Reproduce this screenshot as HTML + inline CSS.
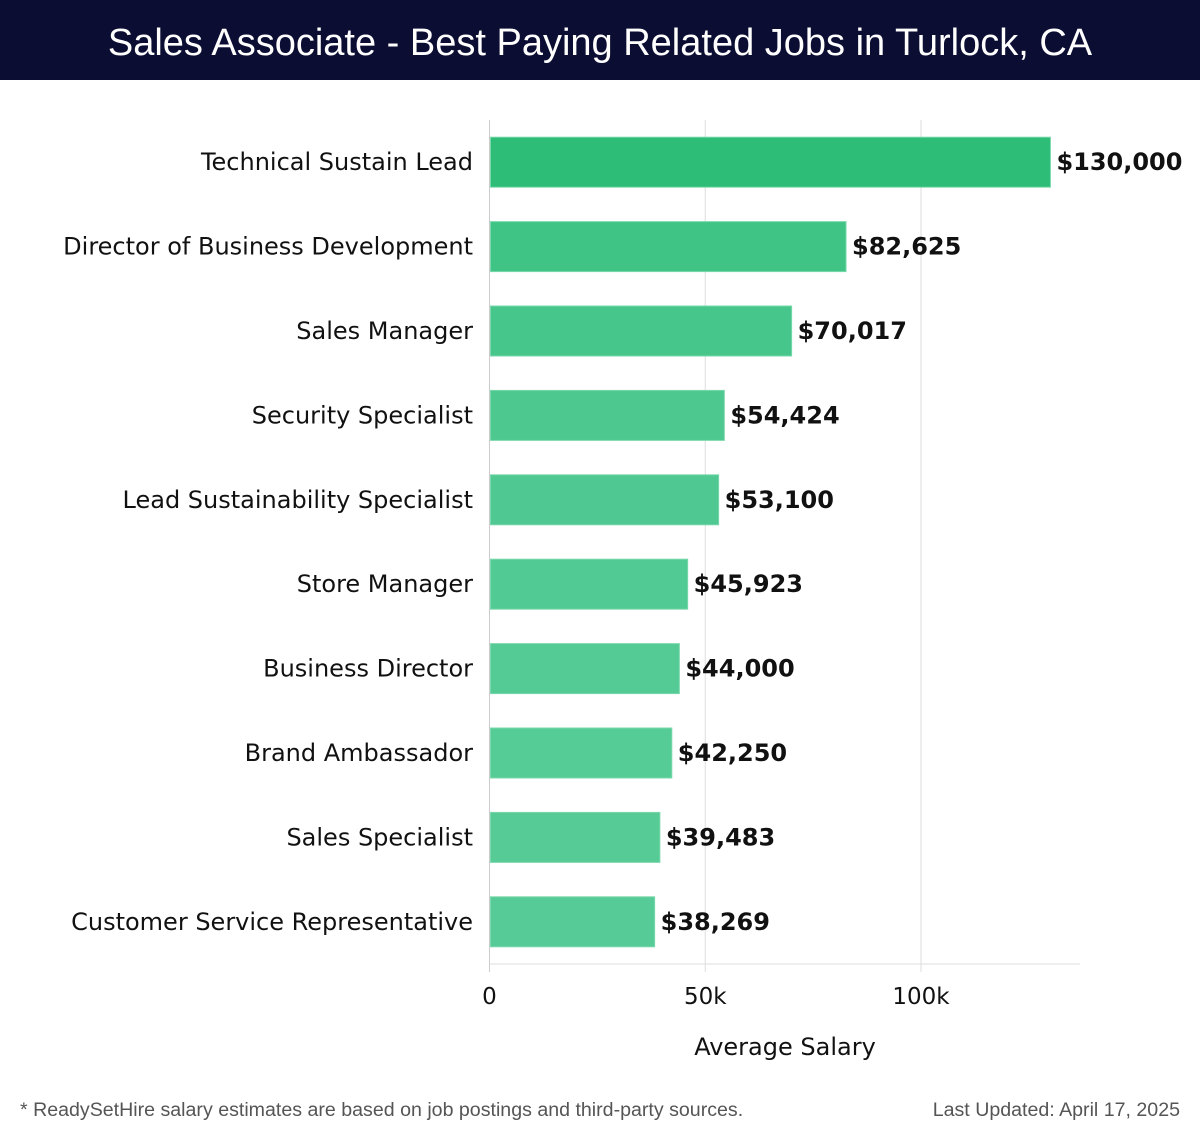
<!DOCTYPE html>
<html><head><meta charset="utf-8"><style>
body{margin:0;width:1200px;height:1140px;background:#fff;font-family:"DejaVu Sans","Liberation Sans",sans-serif;overflow:hidden}
#hdr{position:absolute;left:0;top:0;width:1200px;height:80px;background:#0c0d33;color:#fff;font-size:38px;text-align:center;line-height:86px;font-family:"Liberation Sans",sans-serif}
.foot{position:absolute;top:1099px;font-size:19.6px;color:#555;font-family:"Liberation Sans",sans-serif}
</style></head><body>
<div id="hdr">Sales Associate - Best Paying Related Jobs in Turlock, CA</div>
<svg id="chart" width="1200" height="1140" style="position:absolute;left:0;top:0"></svg>
<div class="foot" style="left:20px">* ReadySetHire salary estimates are based on job postings and third-party sources.</div>
<div class="foot" style="right:20px">Last Updated: April 17, 2025</div>
<script>
const categories=["Technical Sustain Lead","Director of Business Development","Sales Manager","Security Specialist","Lead Sustainability Specialist","Store Manager","Business Director","Brand Ambassador","Sales Specialist","Customer Service Representative"];
const values=[130000,82625,70017,54424,53100,45923,44000,42250,39483,38269];
const tickValues=[0,50000,100000];
const tickLabels=["0","50k","100k"];
const colors=["#2dbd77","#40c486","#47c68b","#4dc88f","#4fc991","#52ca93","#54ca94","#55cb95","#56cb96","#57cb97"];
const svg=document.getElementById('chart');
const NS="http://www.w3.org/2000/svg";
const x0=489.5,pxPer=(921-489.5)/100000,plotTop=120,plotBottom=964,band=(plotBottom-plotTop)/categories.length,bh=50;
const xs=v=>x0+v*pxPer;
const ys=i=>plotTop+band*i+band/2;
function mk(t,a,txt){const e=document.createElementNS(NS,t);for(const k in a)e.setAttribute(k,a[k]);if(txt!=null)e.textContent=txt;svg.appendChild(e);return e;}
tickValues.forEach((v,i)=>{
 const g=mk('line',{x1:xs(v),x2:xs(v),y1:plotTop,y2:plotBottom+8,stroke:'#ddd','stroke-width':1});
 
 
 const t=mk('text',{x:xs(v),y:1004,'text-anchor':'middle','font-size':23,fill:'#111'},tickLabels[i]);
 
 
});
const ax=mk('line',{x1:x0,x2:1080,y1:plotBottom,y2:plotBottom,stroke:'#ddd','stroke-width':1});


const axl=mk('line',{x1:x0,x2:x0,y1:plotTop,y2:plotBottom+8,stroke:'#ccc','stroke-width':1});


categories.forEach((c,i)=>{
 const r=mk('rect',{x:x0+1,y:ys(i)-bh/2,width:xs(values[i])-x0-1,height:bh,fill:colors[i],stroke:'#7ad8ac','stroke-width':1});
 
 
 const l=mk('text',{x:473,y:ys(i)+8,'text-anchor':'end','font-size':24,fill:'#111'},c);
 
 
 const v=mk('text',{x:xs(values[i])+6,y:ys(i)+8,'font-size':24,'font-weight':'bold',fill:'#111'},'$'+values[i].toLocaleString('en-US'));
 
 
});
const xt=mk('text',{x:785,y:1055,'text-anchor':'middle','font-size':24,fill:'#111'},'Average Salary');


</script>
</body></html>
